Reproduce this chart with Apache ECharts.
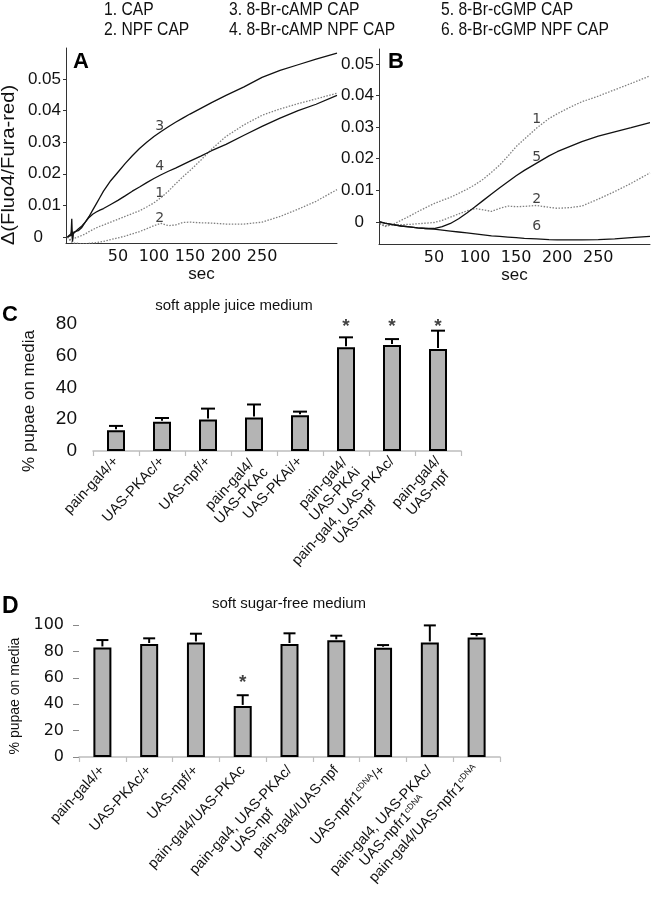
<!DOCTYPE html>
<html><head><meta charset="utf-8">
<script src="https://cdn.jsdelivr.net/npm/echarts@6/dist/echarts.min.js"></script>
<style>html,body{margin:0;padding:0;background:#fff}#c{width:653px;height:900px}</style>
</head><body><div id="c"></div>
<script>
// ---------- Panel A (time in sec, ratio change) ----------
const tA = [-20,-15,-14,-13,-12,-10,-5,0,5,10,15,20,25,30,40,50,60,70,80,90,100,110,120,130,140,150,165,180,200,225,250,275,300,325,354];
const a1 = [0,-0.001,-0.0008,-0.0006,-0.0005,-0.0005,0,0.0005,0.001,0.0017,0.0023,0.0029,0.0034,0.0038,0.0047,0.0056,0.0065,0.0074,0.0083,0.0095,0.0108,0.0125,0.0145,0.0168,0.019,0.021,0.0243,0.0278,0.0318,0.0355,0.0385,0.0405,0.0422,0.0437,0.0455];
const a2 = [0,-0.0015,-0.0016,-0.0018,-0.0019,-0.002,-0.002,-0.0022,-0.0022,-0.002,-0.0019,-0.0018,-0.0016,-0.0014,-0.0008,-0.0003,0.0003,0.001,0.0017,0.0026,0.0036,0.0043,0.0036,0.0038,0.0046,0.0047,0.0045,0.0044,0.0041,0.0041,0.0047,0.0065,0.0088,0.0113,0.015];
const a3 = [0,0.001,0.002,-0.0005,0.0015,0.002,0.002,0.003,0.0048,0.0065,0.0085,0.0105,0.0125,0.0145,0.0178,0.0205,0.0232,0.0257,0.028,0.03,0.0318,0.0334,0.0349,0.0363,0.0376,0.0389,0.0407,0.0425,0.0448,0.0475,0.0505,0.0527,0.0545,0.0563,0.0582];
const a4 = [0,0.0005,0.0058,-0.0015,0.001,0.0015,0.0025,0.0035,0.0048,0.0062,0.0072,0.0079,0.0085,0.009,0.0103,0.0116,0.013,0.0145,0.0158,0.0172,0.0185,0.0197,0.0208,0.0218,0.0229,0.024,0.0256,0.0273,0.0293,0.0322,0.035,0.0376,0.04,0.042,0.0448];
// ---------- Panel B ----------
const tB = [-16,-10,0,10,20,30,40,50,60,70,80,90,100,110,120,130,140,150,160,175,190,200,215,230,250,270,290,313];
const b1 = [-0.0005,-0.0015,-0.0008,0.0005,0.0018,0.0032,0.0045,0.0058,0.0068,0.0078,0.009,0.0103,0.0118,0.0135,0.0157,0.018,0.0208,0.0238,0.0262,0.0297,0.0327,0.0342,0.0362,0.038,0.0398,0.0418,0.0438,0.0462];
const b2 = [-0.0005,-0.0012,-0.001,-0.0009,-0.0008,-0.0006,-0.0004,-0.0002,0.0005,0.0015,0.0025,0.0035,0.0042,0.0038,0.0033,0.0043,0.005,0.0048,0.0049,0.0052,0.0046,0.0043,0.0045,0.005,0.0072,0.0096,0.0122,0.0155];
const b5 = [0,-0.0004,-0.0009,-0.0013,-0.0016,-0.0019,-0.0021,-0.0021,-0.0015,-0.0005,0.001,0.0028,0.0048,0.0068,0.0088,0.0108,0.0127,0.0146,0.0163,0.0186,0.0209,0.0222,0.0238,0.0254,0.0271,0.0285,0.0298,0.0314];
const b6 = [0,-0.0004,-0.0009,-0.0013,-0.0016,-0.0019,-0.0021,-0.0023,-0.0026,-0.0029,-0.0032,-0.0035,-0.0038,-0.0041,-0.0044,-0.0046,-0.0048,-0.005,-0.0052,-0.0054,-0.0056,-0.0057,-0.0057,-0.0057,-0.0056,-0.0054,-0.005,-0.0046];
const xTicksAB = [50,100,150,200,250];
const yTicksAB = [0,0.01,0.02,0.03,0.04,0.05];
const curveLabelsA = [[108,0.0349,'3'],[108,0.0223,'4'],[108,0.0138,'1'],[108,0.0059,'2']];
const curveLabelsB = [[175,0.0323,'1'],[175,0.0205,'5'],[175,0.0070,'2'],[175,-0.0015,'6']];
const legendCol1 = ['1. CAP','2. NPF CAP'];
const legendCol2 = ['3. 8-Br-cAMP CAP','4. 8-Br-cAMP NPF CAP'];
const legendCol3 = ['5. 8-Br-cGMP CAP','6. 8-Br-cGMP NPF CAP'];
// ---------- Panel C ----------
const catsC = ['pain-gal4/+','UAS-PKAc/+','UAS-npf/+','pain-gal4/\nUAS-PKAc','UAS-PKAi/+','pain-gal4/\nUAS-PKAi','pain-gal4, UAS-PKAc/\nUAS-npf','pain-gal4/\nUAS-npf'];
const meanC = [13.1,18.5,19.8,21.1,22.5,65.3,66.7,64.2];
const errC = [2.7,2.3,6.9,8.2,2.3,6.3,3.8,11.6];
const starC = [null,null,null,null,null,81,81,81];
// ---------- Panel D ----------
const catsD = ['pain-gal4/+','UAS-PKAc/+','UAS-npf/+','pain-gal4/UAS-PKAc','pain-gal4, UAS-PKAc/\nUAS-npf','pain-gal4/UAS-npf','UAS-npfr1^cDNA/+','pain-gal4, UAS-PKAc/\nUAS-npfr1^cDNA','pain-gal4/UAS-npfr1^cDNA'];
const meanD = [83.0,85.6,86.8,38.7,85.6,88.4,82.8,86.8,90.6];
const errD = [5.6,4.3,6.6,8.1,8.1,3.5,2.0,12.9,2.6];
const starD = [null,null,null,58.9,null,null,null,null,null];

const chart = echarts.init(document.getElementById('c'), null, {renderer:'canvas'});
const ARIAL = "'Liberation Sans', Arial, sans-serif";
const DJV = "'DejaVu Sans', sans-serif";
const pairs = (t, v) => t.map((x, i) => [x, v[i]]);

function catLabel(s) {
  const lines = s.split('\n').map(line => '{c|' + line.replace('^cDNA', '}{s|cDNA}{c|') + '}');
  if (lines.length > 1) lines.unshift('{c| }');
  return lines.join('\n');
}
const catRich = {
  c: {fontSize: 14.5, fontFamily: ARIAL, color: '#111', align: 'center', lineHeight: 16},
  s: {fontSize: 8.5, fontFamily: ARIAL, color: '#111', align: 'center', verticalAlign: 'top'}
};

function lineSeries(x, y, data, dotted) {
  return {
    type: 'line', xAxisIndex: x, yAxisIndex: y, data: data, showSymbol: false, symbol: 'none',
    smooth: false, silent: true, animation: false,
    lineStyle: dotted ? {color: '#808080', width: 1.3, type: [1.5, 1.5]} : {color: '#111', width: 1.3}
  };
}
function labelSeries(x, y, arr) {
  return {
    type: 'scatter', xAxisIndex: x, yAxisIndex: y, symbolSize: 0, silent: true, animation: false,
    data: arr.map(d => ({value: [d[0], d[1]], name: d[2]})),
    label: {show: true, position: 'inside', formatter: p => p.name, fontFamily: DJV, fontSize: 14, color: '#111'}
  };
}
function errSeries(x, y, means, errs, half) {
  return {
    type: 'custom', xAxisIndex: x, yAxisIndex: y, silent: true, animation: false, z: 3,
    data: means.map((m, i) => [i, m, errs[i]]),
    encode: {x: 0, y: 1},
    renderItem: function (params, api) {
      const p0 = api.coord([api.value(0), api.value(1)]);
      const p1 = api.coord([api.value(0), api.value(1) + api.value(2)]);
      return {type: 'group', children: [
        {type: 'line', shape: {x1: p0[0], y1: p0[1] - 1, x2: p1[0], y2: p1[1]}, style: {stroke: '#000', lineWidth: 2}},
        {type: 'line', shape: {x1: p1[0] - half, y1: p1[1], x2: p1[0] + half, y2: p1[1]}, style: {stroke: '#000', lineWidth: 2}}
      ]};
    }
  };
}
function starSeries(x, y, stars) {
  return {
    type: 'scatter', xAxisIndex: x, yAxisIndex: y, symbolSize: 0, silent: true, animation: false, clip: false,
    data: stars.map((v, i) => v == null ? null : [i, v]).filter(Boolean),
    label: {show: true, position: 'inside', formatter: '*', fontFamily: ARIAL, fontSize: 19, fontWeight: 'bold', color: '#111', offset: [0, 4]}
  };
}
function barSeries(x, y, means) {
  return {
    type: 'bar', xAxisIndex: x, yAxisIndex: y, data: means, barWidth: 18, silent: true, animation: false,
    itemStyle: {color: '#b4b4b4', borderColor: '#000', borderWidth: 2}
  };
}

function timeAxis(grid, min, max) {
  return {
    type: 'value', gridIndex: grid, min: min, max: max,
    axisLine: {show: true, onZero: false, lineStyle: {color: '#333', width: 1}},
    axisTick: {show: false},
    splitLine: {show: false},
    axisLabel: {customValues: xTicksAB, margin: 6, fontFamily: DJV, fontSize: 16, color: '#111'},
    name: 'sec', nameLocation: 'middle', nameGap: 20,
    nameTextStyle: {fontFamily: ARIAL, fontSize: 17, color: '#111'}
  };
}
function ratioAxis(grid, min, max, zeroPad) {
  return {
    type: 'value', gridIndex: grid, min: min, max: max,
    axisLine: {show: true, onZero: false, lineStyle: {color: '#333', width: 1}},
    axisTick: {show: true, customValues: yTicksAB, length: 3, lineStyle: {color: '#333'}},
    splitLine: {show: false},
    axisLabel: {
      customValues: yTicksAB, margin: 5, fontFamily: ARIAL, fontSize: 17, color: '#111',
      formatter: v => v === 0 ? '{z|0}' : v.toFixed(2),
      rich: {z: {fontFamily: ARIAL, fontSize: 17, color: '#111', padding: [0, zeroPad, 0, 0]}}
    }
  };
}
function catAxis(grid, cats, margin) {
  return {
    type: 'category', gridIndex: grid, data: cats,
    axisLine: {show: true, lineStyle: {color: '#bdbdbd', width: 1.5}},
    axisTick: {show: true, alignWithLabel: false, length: 5, lineStyle: {color: '#bdbdbd', width: 1.2}},
    axisLabel: {interval: 0, rotate: 47, margin: margin, formatter: v => catLabel(v), rich: catRich, hideOverlap: false}
  };
}

const legendTexts = [];
[[legendCol1, 104], [legendCol2, 229], [legendCol3, 441]].forEach(([col, x]) => {
  col.forEach((t, i) => legendTexts.push({
    type: 'text', x: x, y: 10 + i * 20, scaleX: 0.87,
    style: {text: t, font: "18px " + ARIAL, fill: '#111', textAlign: 'left', textVerticalAlign: 'middle'}
  }));
});

const option = {
  animation: false,
  backgroundColor: '#fff',
  grid: [
    {left: 66, top: 48, width: 271, height: 195, outerBoundsMode: 'none', containLabel: false},
    {left: 379, top: 49, width: 271, height: 195, outerBoundsMode: 'none', containLabel: false},
    {left: 93, top: 324, width: 368, height: 127, outerBoundsMode: 'none', containLabel: false},
    {left: 79, top: 625, width: 421, height: 132, outerBoundsMode: 'none', containLabel: false}
  ],
  xAxis: [
    timeAxis(0, -22, 354),
    timeAxis(1, -17, 313),
    catAxis(2, catsC, 8),
    catAxis(3, catsD, 11)
  ],
  yAxis: [
    ratioAxis(0, -0.0019, 0.0598, 18),
    ratioAxis(1, -0.007, 0.0547, 10),
    {
      type: 'value', gridIndex: 2, min: 0, max: 80, interval: 20,
      axisLine: {show: false}, axisTick: {show: false}, splitLine: {show: false},
      axisLabel: {margin: 16, fontFamily: ARIAL, fontSize: 19, color: '#111'}
    },
    {
      type: 'value', gridIndex: 3, min: 0, max: 100, interval: 20,
      axisLine: {show: false}, axisTick: {show: true, length: 6, lineStyle: {color: '#888'}}, splitLine: {show: false},
      axisLabel: {margin: 15, fontFamily: DJV, fontSize: 16, color: '#111'}
    }
  ],
  series: [
    lineSeries(0, 0, pairs(tA, a1), true),
    lineSeries(0, 0, pairs(tA, a2), true),
    lineSeries(0, 0, pairs(tA, a3), false),
    lineSeries(0, 0, pairs(tA, a4), false),
    labelSeries(0, 0, curveLabelsA),
    lineSeries(1, 1, pairs(tB, b1), true),
    lineSeries(1, 1, pairs(tB, b2), true),
    lineSeries(1, 1, pairs(tB, b5), false),
    lineSeries(1, 1, pairs(tB, b6), false),
    labelSeries(1, 1, curveLabelsB),
    barSeries(2, 2, meanC),
    errSeries(2, 2, meanC, errC, 7),
    starSeries(2, 2, starC),
    barSeries(3, 3, meanD),
    errSeries(3, 3, meanD, errD, 6),
    starSeries(3, 3, starD)
  ],
  graphic: legendTexts.concat([
    {type: 'text', x: 73, y: 62, style: {text: 'A', font: "bold 22px " + ARIAL, fill: '#000', textAlign: 'left', textVerticalAlign: 'middle'}},
    {type: 'text', x: 388, y: 62, style: {text: 'B', font: "bold 22px " + ARIAL, fill: '#000', textAlign: 'left', textVerticalAlign: 'middle'}},
    {type: 'text', x: 2, y: 315, style: {text: 'C', font: "bold 22px " + ARIAL, fill: '#000', textAlign: 'left', textVerticalAlign: 'middle'}},
    {type: 'text', x: 2, y: 607, style: {text: 'D', font: "bold 23px " + ARIAL, fill: '#000', textAlign: 'left', textVerticalAlign: 'middle'}},
    {type: 'text', x: 9, y: 165, rotation: Math.PI / 2, scaleX: 1.12, style: {text: 'Δ(Fluo4/Fura-red)', font: "18px " + ARIAL, fill: '#111', textAlign: 'center', textVerticalAlign: 'middle'}},
    {type: 'text', x: 29, y: 401, rotation: Math.PI / 2, style: {text: '% pupae on media', font: "17px " + ARIAL, fill: '#111', textAlign: 'center', textVerticalAlign: 'middle'}},
    {type: 'text', x: 15, y: 696, rotation: Math.PI / 2, style: {text: '% pupae on media', font: "14px " + ARIAL, fill: '#111', textAlign: 'center', textVerticalAlign: 'middle'}},
    {type: 'text', x: 234, y: 306, style: {text: 'soft apple juice medium', font: "15px " + ARIAL, fill: '#111', textAlign: 'center', textVerticalAlign: 'middle'}},
    {type: 'text', x: 289, y: 604, style: {text: 'soft sugar-free medium', font: "15px " + ARIAL, fill: '#111', textAlign: 'center', textVerticalAlign: 'middle'}}
  ])
};
chart.setOption(option);
</script>
</body></html>
